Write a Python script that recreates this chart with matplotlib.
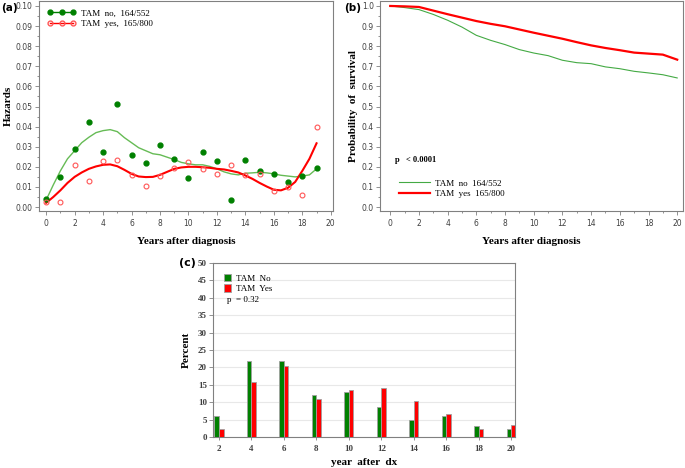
import matplotlib.pyplot as plt
from matplotlib.ticker import MultipleLocator

# (a) hazards por año
anios = list(range(20))
haz_no = [0.0038, 0.0149, 0.029, 0.0425, 0.0273, 0.051, 0.0258, 0.022, 0.031, 0.0241,
          0.0142, 0.0273, 0.023, 0.0036, 0.0233, 0.018, 0.0162, 0.0127, 0.0154, 0.0193]
haz_yes = [0.0025, 0.0026, 0.0208, 0.0132, 0.023, 0.0236, 0.0159, 0.0104, 0.0155, 0.0192,
           0.0223, 0.0187, 0.0165, 0.0207, 0.016, 0.0164, 0.0081, 0.0099, 0.0061, 0.0398]

# curvas suavizadas (leídas cada medio año)
t_suave = [i * 0.5 for i in range(39)]
suave_no = [0.0035, 0.011, 0.018, 0.024, 0.028, 0.032, 0.0347, 0.037, 0.038, 0.0385,
            0.0375, 0.0345, 0.032, 0.0295, 0.028, 0.0265, 0.026, 0.0248, 0.0236, 0.0222,
            0.0215, 0.021, 0.021, 0.0202, 0.019, 0.0175, 0.0165, 0.016, 0.0168, 0.017,
            0.0173, 0.017, 0.0165, 0.0158, 0.0154, 0.015, 0.0154, 0.016, 0.019]
suave_yes = [0.0021, 0.005, 0.0083, 0.012, 0.015, 0.0172, 0.019, 0.0202, 0.021, 0.0212,
             0.0203, 0.0185, 0.0165, 0.0152, 0.0149, 0.015, 0.016, 0.0175, 0.019, 0.0197,
             0.020, 0.020, 0.0198, 0.0195, 0.019, 0.0187, 0.018, 0.0172, 0.0157, 0.014,
             0.012, 0.0102, 0.0086, 0.0083, 0.0096, 0.0125, 0.018, 0.024, 0.0317]

# (b) supervivencia
t_surv = list(range(21))
surv_no = [1.0, 0.992, 0.982, 0.958, 0.929, 0.895, 0.854, 0.829, 0.808, 0.783, 0.766,
           0.753, 0.73, 0.718, 0.713, 0.697, 0.688, 0.675, 0.667, 0.658, 0.642]
surv_yes = [1.0, 0.998, 0.995, 0.977, 0.959, 0.942, 0.925, 0.911, 0.899, 0.883, 0.867,
            0.852, 0.837, 0.82, 0.804, 0.791, 0.78, 0.768, 0.763, 0.758, 0.733]

# (c) porcentaje por año
anios_c = [2, 4, 6, 8, 10, 12, 14, 16, 18, 20]
pct_no = [6.0, 22.0, 22.0, 12.2, 12.9, 8.6, 4.9, 6.1, 3.1, 2.4]
pct_yes = [2.4, 15.7, 20.5, 11.0, 13.4, 14.0, 10.4, 6.6, 2.4, 3.6]

serif = 'Liberation Serif'
gris = '#808080'
txt_gris = '#404040'

fig = plt.figure(figsize=(6.85, 4.68), dpi=100)
ax1 = fig.add_axes([0.057, 0.549, 0.429, 0.449])
ax2 = fig.add_axes([0.555, 0.549, 0.442, 0.449])
ax3 = fig.add_axes([0.311, 0.066, 0.441, 0.372])

def estilo(ax):
    for s in ax.spines.values():
        s.set_color(gris)
        s.set_linewidth(0.8)
    ax.tick_params(which='both', colors=gris, labelcolor=txt_gris, labelsize=5.5,
                   width=0.6, pad=1.5)
    ax.tick_params(which='major', length=3)
    ax.tick_params(which='minor', length=1.5)
    ax.tick_params(axis='x', pad=3)

# ---- (a)
ax1.plot(t_suave, suave_no, color='#66bb55', lw=1.0)
ax1.plot(t_suave, suave_yes, color='red', lw=1.5)
ax1.plot(anios, haz_no, 'o', color='#008000', ms=3.5, mec='#008000')
ax1.plot(anios, haz_yes, 'o', mfc='none', mec='#ff5555', ms=3.5, mew=0.8)
h1, = ax1.plot([], [], '-o', color='#008000', ms=3.5, lw=1)
h2, = ax1.plot([], [], '-o', color='red', mfc='none', mec='#ff5555', ms=3.5, lw=1)
ax1.legend([h1, h2], ['TAM  no,  164/552', 'TAM  yes,  165/800'], numpoints=3,
           loc='upper left', frameon=False, prop={'family': serif, 'size': 6.5},
           handlelength=3.2, handletextpad=0.6, borderaxespad=0.5, labelspacing=0.25)
ax1.set_xlim(-0.5, 20.15)
ax1.set_ylim(-0.002, 0.1025)
ax1.xaxis.set_major_locator(MultipleLocator(2))
ax1.xaxis.set_minor_locator(MultipleLocator(1))
ax1.yaxis.set_major_locator(MultipleLocator(0.01))
ax1.yaxis.set_minor_locator(MultipleLocator(0.005))
ax1.yaxis.set_major_formatter(plt.FormatStrFormatter('%.2f'))
estilo(ax1)
ax1.set_ylabel('Hazards', family=serif, fontweight='bold', fontsize=8, labelpad=2)
ax1.set_xlabel('Years after diagnosis', family=serif, fontweight='bold', fontsize=8, labelpad=6)
fig.text(0.001, 0.993, '(a)', fontweight='bold', fontsize=7.5, va='top')

# ---- (b)
ax2.plot(t_surv, surv_no, color='#44aa44', lw=0.8)
ax2.plot(t_surv, surv_yes, color='red', lw=1.6)
ax2.set_xlim(-0.7, 20.4)
ax2.set_ylim(-0.02, 1.025)
ax2.xaxis.set_major_locator(MultipleLocator(2))
ax2.xaxis.set_minor_locator(MultipleLocator(1))
ax2.yaxis.set_major_locator(MultipleLocator(0.1))
ax2.yaxis.set_minor_locator(MultipleLocator(0.05))
ax2.yaxis.set_major_formatter(plt.FormatStrFormatter('%.1f'))
estilo(ax2)
ax2.legend(['TAM  no  164/552', 'TAM  yes  165/800'], loc='lower left',
           bbox_to_anchor=(0.035, 0.025), frameon=False,
           prop={'family': serif, 'size': 6.5}, handlelength=3.4,
           handletextpad=0.6, labelspacing=0.2)
ax2.text(0.05, 0.235, 'p   < 0.0001', transform=ax2.transAxes, family=serif,
         fontweight='bold', fontsize=6)
ax2.set_ylabel('Probability  of  survival', family=serif, fontweight='bold', fontsize=8, labelpad=3)
ax2.set_xlabel('Years after diagnosis', family=serif, fontweight='bold', fontsize=8, labelpad=6)
fig.text(0.503, 0.993, '(b)', fontweight='bold', fontsize=7.5, va='top')

# ---- (c)
ancho = 0.28
ax3.bar([a - ancho / 2 for a in anios_c], pct_no, width=ancho, color='#008000',
        edgecolor='#a0a0a0', lw=0.6, label='TAM  No', zorder=3)
ax3.bar([a + ancho / 2 for a in anios_c], pct_yes, width=ancho, color='#ff0000',
        edgecolor='#a0a0a0', lw=0.6, label='TAM  Yes', zorder=3)
ax3.set_xlim(1.63, 20.25)
ax3.set_ylim(0, 50)
ax3.set_xticks(anios_c)
ax3.yaxis.set_major_locator(MultipleLocator(5))
ax3.grid(axis='y', color='#e8e8e8', lw=0.8, zorder=0)
estilo(ax3)
ax3.tick_params(axis='x', length=2, pad=4)
for lb in ax3.get_yticklabels() + ax3.get_xticklabels():
    lb.set_family(serif)
    lb.set_fontweight('bold')
    lb.set_fontsize(6.5)
ax3.legend(loc='upper left', frameon=False, prop={'family': serif, 'size': 6.5},
           handlelength=0.8, handleheight=0.9, labelspacing=0.2, borderaxespad=0.5,
           handletextpad=0.5, bbox_to_anchor=(0.01, 0.985))
ax3.text(0.045, 0.787, 'p  = 0.32', transform=ax3.transAxes, family=serif,
         fontsize=6.5, va='center')
ax3.set_ylabel('Percent', family=serif, fontweight='bold', fontsize=8, labelpad=5)
ax3.set_xlabel('year  after  dx', family=serif, fontweight='bold', fontsize=8, labelpad=3)
fig.text(0.262, 0.448, '(c)', fontweight='bold', fontsize=8, va='top')

fig.savefig('out.png', dpi=100)
